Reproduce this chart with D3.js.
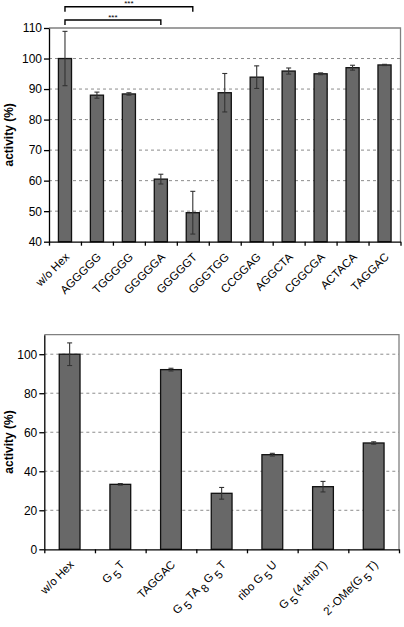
<!DOCTYPE html>
<html><head><meta charset="utf-8">
<script src="https://cdn.jsdelivr.net/npm/d3@7"></script>
<style>
body{margin:0;background:#fff}
text{font-family:"Liberation Sans",Arial,sans-serif;fill:#000}
</style></head>
<body><svg id="c" width="404" height="627"></svg>
<script>
// ---- Data: top panel ----
const topCategories = ["w/o Hex","AGGGGG","TGGGGG","GGGGGA","GGGGGT","GGGTGG","CCGGAG","AGGCTA","CGGCGA","ACTACA","TAGGAC"];
const topValues = [100, 88, 88.4, 60.5, 49.5, 88.8, 93.9, 95.9, 95.0, 97.0, 97.9];
const topErrors = [8.9, 1.0, 0.4, 1.6, 7.0, 6.3, 3.7, 1.0, 0.3, 0.8, 0.2];
const topTicks = [40, 50, 60, 70, 80, 90, 100, 110];
const topBrackets = [{from:0, to:4, label:"***"}, {from:0, to:3, label:"***"}];

// ---- Data: bottom panel ----
const bottomCategories = ["w/o Hex","G<5>T","TAGGAC","G<5>TA<8>G<5>T","ribo G<5>U","G<5>(4-thioT)","2\u2019-OMe(G<5>T)"];
const bottomValues = [100, 33.3, 92.1, 28.7, 48.5, 32.1, 54.5];
const bottomErrors = [5.8, 0.4, 0.7, 3.0, 0.7, 2.7, 0.6];
const bottomTicks = [0, 20, 40, 60, 80, 100];

const svg = d3.select("#c");
const labelLayer = [];

function panel(cfg){
  const {left,right,top,bottom,cats,vals,errs,ticks,domain} = cfg;
  const g = svg.append("g");
  const x = d3.scaleBand().domain(d3.range(cats.length)).range([left,right]).padding(0);
  const xb = d3.scaleLinear().domain([0,cats.length]).range([left,right]);
  const y = d3.scaleLinear().domain(domain).range([bottom,top]);
  const bw = x.bandwidth()*0.41;

  g.append("g").selectAll("line").data(ticks.filter(v=>v>domain[0] && v<domain[1])).join("line")
    .attr("x1",left).attr("x2",right).attr("y1",d=>y(d)).attr("y2",d=>y(d))
    .attr("stroke","#8c8c8c").attr("stroke-width",1).attr("stroke-dasharray","3,3");
  g.append("path").attr("d",`M${left},${top}H${right}V${bottom}`).attr("fill","none")
    .attr("stroke","#808080").attr("stroke-width",1.3);

  g.append("g").selectAll("rect").data(vals).join("rect")
    .attr("x",(d,i)=>x(i)+x.bandwidth()/2-bw/2).attr("width",bw)
    .attr("y",d=>y(d)).attr("height",d=>bottom-y(d))
    .attr("fill","#686868").attr("stroke","#111").attr("stroke-width",1.3);

  const eg = g.append("g").attr("stroke","#333").attr("stroke-width",1.1);
  vals.forEach((v,i)=>{
    const cx = x(i)+x.bandwidth()/2, e = errs[i];
    eg.append("line").attr("x1",cx).attr("x2",cx).attr("y1",y(v+e)).attr("y2",y(v-e));
    eg.append("line").attr("x1",cx-2.5).attr("x2",cx+2.5).attr("y1",y(v+e)).attr("y2",y(v+e));
    eg.append("line").attr("x1",cx-2.5).attr("x2",cx+2.5).attr("y1",y(v-e)).attr("y2",y(v-e));
  });

  const ya = g.append("g").attr("transform",`translate(${left},0)`)
    .call(d3.axisLeft(y).tickValues(ticks).tickSize(5).tickSizeOuter(0).tickPadding(2));
  ya.select(".domain").attr("stroke","#000").attr("stroke-width",1.3);
  ya.selectAll(".tick line").attr("stroke","#000").attr("stroke-width",1.3);
  ya.selectAll("text").attr("font-size","12px").attr("font-family","Liberation Sans, Arial, sans-serif");

  const xa = g.append("g").attr("transform",`translate(0,${bottom})`)
    .call(d3.axisBottom(xb).tickValues(d3.range(cats.length+1)).tickFormat("").tickSize(4).tickSizeOuter(0));
  xa.select(".domain").attr("stroke","#000").attr("stroke-width",1.3);
  xa.selectAll(".tick line").attr("stroke","#000").attr("stroke-width",1.3);
  xa.selectAll(".tick text").remove();

  cats.forEach((c,i)=>{
    labelLayer.push({c, px: x(i)+x.bandwidth()/2+5, py: bottom+16});
  });

  svg.append("text").attr("font-size","12px").attr("font-weight","bold").attr("text-anchor","middle")
    .attr("transform",`translate(13,${(top+bottom)/2}) rotate(-90)`).text("activity (%)");
  return {x,y};
}

const topScales = panel({left:49,right:400.5,top:28,bottom:241.7,cats:topCategories,vals:topValues,errs:topErrors,
  ticks:topTicks,domain:[40,110]});

topBrackets.forEach((b,k)=>{
  const x1 = topScales.x(b.from)+topScales.x.bandwidth()/2, x2 = topScales.x(b.to)+topScales.x.bandwidth()/2;
  const yy = 6.7 + k*13.3;
  svg.append("path").attr("d",`M${x1},${yy+5}V${yy}H${x2}V${yy+5}`).attr("fill","none")
    .attr("stroke","#000").attr("stroke-width",1.4);
  svg.append("text").attr("x",(x1+x2)/2).attr("y",yy-0.5).attr("text-anchor","middle")
    .attr("font-size","8px").text(b.label);
});

panel({left:44.3,right:399,top:334.7,bottom:549.3,cats:bottomCategories,vals:bottomValues,errs:bottomErrors,
  ticks:bottomTicks,domain:[0,110]});

// rotated category labels (-45 degrees)
const k = Math.SQRT1_2;
labelLayer.forEach(({c,px,py})=>{
  const t = svg.append("text")
    .attr("transform",`matrix(${k},${-k},${k},${k},${px},${py})`)
    .style("transform",`translate(${px}px,${py}px) rotate(-45deg)`)
    .attr("font-size",11.5).attr("text-anchor","end");
  if(c.indexOf("<")<0){ t.text(c); return; }
  const parts = c.split(/(<[^>]+>)/).filter(p=>p.length);
  let sub = false;
  parts.forEach(p=>{
    if(p.startsWith("<")){
      t.append("tspan").attr("dy",5).attr("dx",2).text(p.slice(1,-1));
      sub = true;
    } else {
      const ts = t.append("tspan").text(p);
      if(sub){ ts.attr("dy",-5).attr("dx",2); sub=false; }
    }
  });
});
</script></body></html>
